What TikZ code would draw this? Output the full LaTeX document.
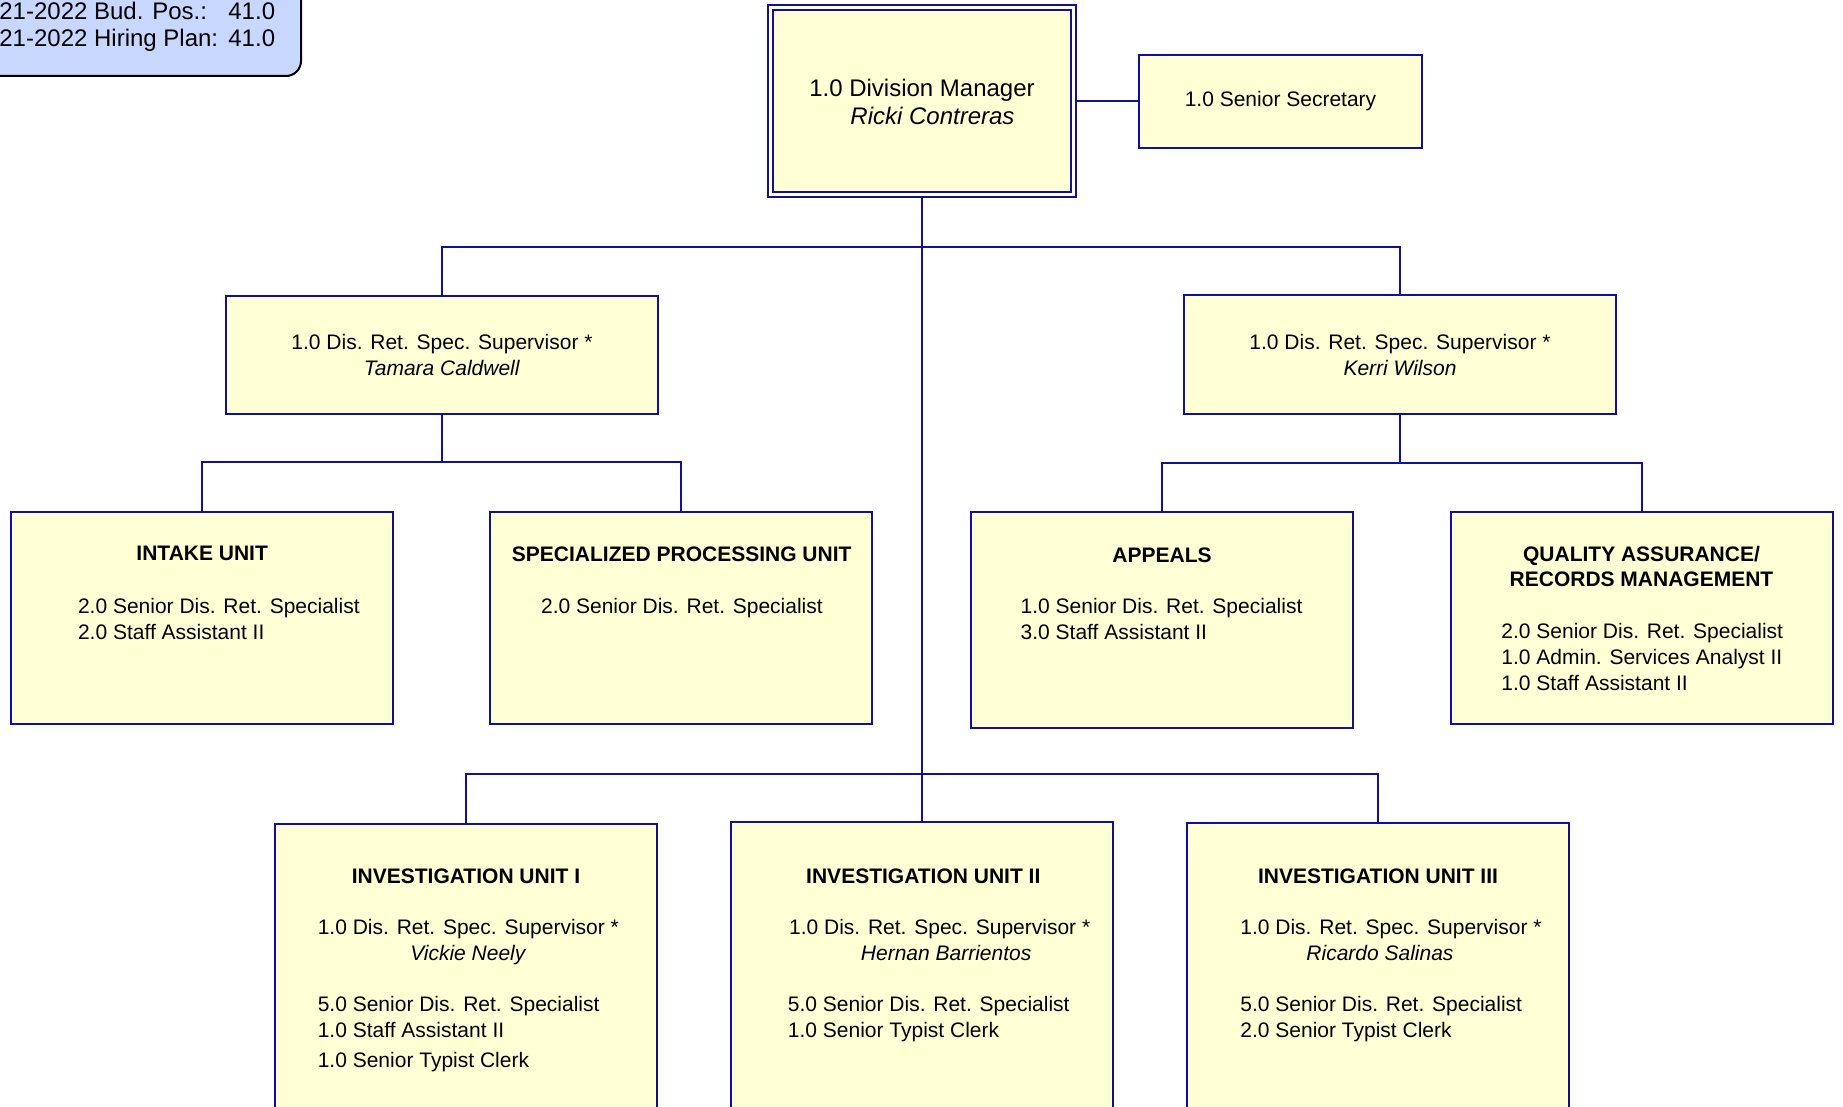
\documentclass[tikz,border=0pt]{standalone}
\usepackage{fontspec}
\setmainfont{Liberation Sans}
\definecolor{chartblue}{HTML}{10109C}
\definecolor{chartfill}{HTML}{FFFFD6}
\definecolor{infofill}{HTML}{C8D7FE}

\begin{document}
\begin{tikzpicture}[x=0.5pt, y=-0.5pt, font=\fontsize{10.5}{13}\selectfont,
  box/.style={draw=chartblue, fill=chartfill, line width=1pt, inner sep=0pt},
  unitbox/.style={box, minimum width=191pt, minimum height=106pt},
  invbox/.style={box, minimum width=191pt, minimum height=200pt},
  title/.style={inner sep=0pt, anchor=north, align=center, font=\fontsize{10.5}{12.5}\selectfont\bfseries},
  staff/.style={inner sep=0pt, anchor=north west, align=left},
  chief/.style={inner sep=0pt, anchor=north west, align=center},
  link/.style={draw=chartblue, line width=1pt}]
  \useasboundingbox (0,0) rectangle (1843,1107);
  \fill[white] (0,0) rectangle (1843,1107);
  \clip (0,0) rectangle (1843,1107);
  % position summary
  \node[draw=black, fill=infofill, line width=1pt, rounded corners=7.5pt, inner sep=0pt,
    minimum width=170.5pt, minimum height=58pt] (info) at (130.5,18) {};
  \node[staff, font=\fontsize{12}{13.5}\selectfont] (infoL) at (-1,2) {21-2022 Bud. Pos.:\\21-2022 Hiring Plan:};
  \node[staff, font=\fontsize{12}{13.5}\selectfont] (infoR) at (228,2) {41.0\\41.0};
  % head and secretary
  \node[box, double=chartfill, double distance=1.5pt, minimum width=151.75pt, minimum height=93.5pt,
    align=center, font=\fontsize{12}{14}\selectfont] (dm) at (922,101.5)
    {1.0 Division Manager\\\hspace*{10.5pt}\textit{Ricki Contreras}};
  \node[box, minimum width=141.5pt, minimum height=46.5pt] (sec) at (1280.5,101.5) {1.0 Senior Secretary};
  % supervisors
  \node[box, minimum width=216pt, minimum height=59pt, align=center] (supL) at (442,355)
    {1.0 Dis. Ret. Spec. Supervisor *\\\textit{Tamara Caldwell}};
  \node[box, minimum width=216pt, minimum height=59pt, align=center] (supR) at (1400,354.5)
    {1.0 Dis. Ret. Spec. Supervisor *\\\textit{Kerri Wilson}};
  % units
  \node[unitbox] (intake) at (201.6,618) {};
  \node[title] (intakeT) at (202.2,546) {INTAKE UNIT};
  \node[staff] (intakeS) at (77.6,597.4) {2.0 Senior Dis. Ret. Specialist\\2.0 Staff Assistant II};
  \node[unitbox] (spec) at (681,617.6) {};
  \node[title] (specT) at (681.7,546) {SPECIALIZED PROCESSING UNIT};
  \node[staff] (specS) at (540.7,597.4) {2.0 Senior Dis. Ret. Specialist};
  \node[unitbox, minimum height=108pt] (appeals) at (1162,619.5) {};
  \node[title] (appealsT) at (1162,547) {APPEALS};
  \node[staff] (appealsS) at (1020.3,597.4) {1.0 Senior Dis. Ret. Specialist\\3.0 Staff Assistant II};
  \node[unitbox] (qa) at (1641.5,617.6) {};
  \node[title] (qaT) at (1641.5,546) {QUALITY ASSURANCE/\\RECORDS MANAGEMENT};
  \node[staff] (qaS) at (1501,622.4)
    {2.0 Senior Dis. Ret. Specialist\\1.0 Admin. Services Analyst II\\1.0 Staff Assistant II};
  % investigation units
  \node[invbox] (inv1) at (466,1024) {};
  \node[title] (inv1T) at (466,868) {INVESTIGATION UNIT I};
  \node[chief] (inv1C) at (317.4,918.6) {1.0 Dis. Ret. Spec. Supervisor *\\\textit{Vickie Neely}};
  \node[staff] (inv1S) at (317.4,996.2)
    {5.0 Senior Dis. Ret. Specialist\\1.0 Staff Assistant II\\[1.7pt]1.0 Senior Typist Clerk};
  \node[invbox] (inv2) at (922,1022) {};
  \node[title] (inv2T) at (923.3,868) {INVESTIGATION UNIT II};
  \node[chief] (inv2C) at (788.7,918.6) {1.0 Dis. Ret. Spec. Supervisor *\\\hspace*{6.5pt}\textit{Hernan Barrientos}};
  \node[staff] (inv2S) at (787.5,996.2) {5.0 Senior Dis. Ret. Specialist\\1.0 Senior Typist Clerk};
  \node[invbox] (inv3) at (1378,1023) {};
  \node[title] (inv3T) at (1378,868) {INVESTIGATION UNIT III};
  \node[chief] (inv3C) at (1240,918.6) {1.0 Dis. Ret. Spec. Supervisor *\\\textit{Ricardo Salinas}\hspace*{11pt}};
  \node[staff] (inv3S) at (1240,996.2) {5.0 Senior Dis. Ret. Specialist\\2.0 Senior Typist Clerk};
  % connectors
  \coordinate (busTop) at (922,247);
  \coordinate (busL) at (442,462);
  \coordinate (busR) at (1400,463);
  \coordinate (busInv) at (922,774);
  \draw[link] (dm.east) -- (sec.west);
  \draw[link] (dm.south) -- (inv2.north);
  \draw[link] (supL.north) |- (busTop) -| (supR.north);
  \draw[link] (supL.south) -- (busL);
  \draw[link] (intake.north) |- (busL) -| (spec.north);
  \draw[link] (supR.south) -- (busR);
  \draw[link] (appeals.north) |- (busR) -| (qa.north);
  \draw[link] (inv1.north) |- (busInv) -| (inv3.north);
\end{tikzpicture}
\end{document}
